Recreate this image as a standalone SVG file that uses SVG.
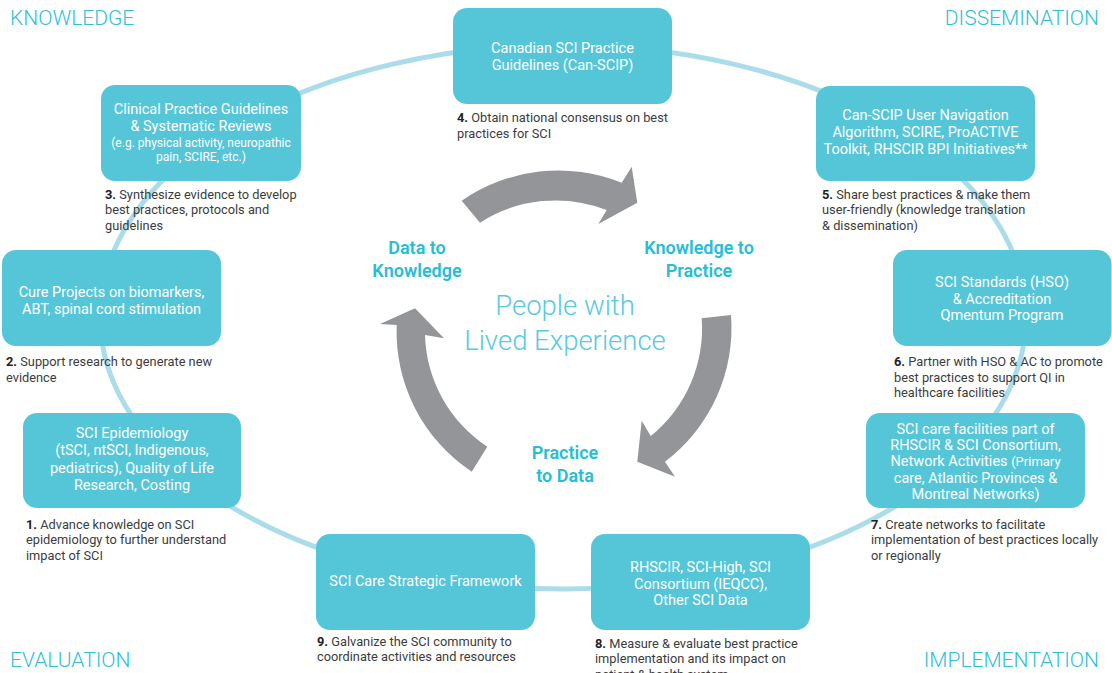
<svg xmlns="http://www.w3.org/2000/svg" width="1112" height="673" viewBox="0 0 1112 673">
<style>
text{font-family:Roboto,"Liberation Sans",Arial,sans-serif}
.box{fill:#55c6d8}
.bt{fill:#ffffff;font-size:14.5px;text-anchor:middle}
.bs{fill:#ffffff;font-size:12px;text-anchor:middle}
.cap{fill:#3c3c3c;font-size:12.8px}
.num{font-weight:700;fill:#222}
.corner{fill:#2fc0d7;font-size:21px;font-weight:300}
.phase{fill:#27bdd5;font-size:18px;font-weight:600;text-anchor:middle}
.ple{fill:#5ac9df;font-size:27.5px;font-weight:300;text-anchor:middle}
.ring{fill:none;stroke:#aadde9;stroke-width:5}
.arr{fill:#939598}
</style>
<rect width="1112" height="673" fill="#ffffff"/>
<g id="connectors">
<ellipse class="ring" cx="563" cy="317" rx="463" ry="272"/>
</g>
<g id="cycle-arrows">
<path class="arr" d="M461.7 200.7 A170 170 0 0 1 621.7 182.7 L631.7 166.7 L637.3 202.7 L598.3 224 L606.7 210 A140 140 0 0 0 480 222.7 Z"/>
<path class="arr" d="M701.7 318.3 L731 315 A168 168 0 0 1 665 461.7 L675 476.7 L637.3 461.7 L641.7 420.7 L650.7 436 A138 138 0 0 0 701.7 318.3 Z"/>
<path class="arr" d="M471.7 471.7 A168 168 0 0 1 396.7 325 L380 324 L415 308.3 L444 338.3 L425 335 A138 138 0 0 0 487.3 446.7 Z"/>
</g>
<g id="labels">
<text class="corner" x="10" y="25">KNOWLEDGE</text>
<text class="corner" x="1099" y="25" text-anchor="end">DISSEMINATION</text>
<text class="corner" x="10" y="667">EVALUATION</text>
<text class="corner" x="1099" y="667" text-anchor="end">IMPLEMENTATION</text>
<text class="phase" x="417" y="254">Data to</text>
<text class="phase" x="417" y="277">Knowledge</text>
<text class="phase" x="699" y="254">Knowledge to</text>
<text class="phase" x="699" y="277">Practice</text>
<text class="phase" x="565" y="459">Practice</text>
<text class="phase" x="565" y="482">to Data</text>
<text class="ple" x="565" y="315">People with</text>
<text class="ple" x="565" y="350">Lived Experience</text>
</g>
<g id="node-4">
<rect class="box" x="453" y="8" width="219" height="96" rx="14"/>
<text class="bt" x="562.5" y="53">Canadian SCI Practice</text>
<text class="bt" x="562.5" y="70">Guidelines (Can-SCIP)</text>
<text class="cap" x="457" y="122"><tspan class="num">4.</tspan> Obtain national consensus on best</text>
<text class="cap" x="457" y="137.5">practices for SCI</text>
</g>
<g id="node-3">
<rect class="box" x="101" y="85" width="200" height="96" rx="14"/>
<text class="bt" x="201" y="114">Clinical Practice Guidelines</text>
<text class="bt" x="201" y="131">&amp; Systematic Reviews</text>
<text class="bs" x="201" y="146.5">(e.g. physical activity, neuropathic</text>
<text class="bs" x="201" y="160.5">pain, SCIRE, etc.)</text>
<text class="cap" x="105" y="199"><tspan class="num">3.</tspan> Synthesize evidence to develop</text>
<text class="cap" x="105" y="214">best practices, protocols and</text>
<text class="cap" x="105" y="229.5">guidelines</text>
</g>
<g id="node-5">
<rect class="box" x="816" y="86" width="219" height="95" rx="14"/>
<text class="bt" x="925.5" y="119.5">Can-SCIP User Navigation</text>
<text class="bt" x="925.5" y="136.5">Algorithm, SCIRE, ProACTIVE</text>
<text class="bt" x="925.5" y="154">Toolkit, RHSCIR BPI Initiatives**</text>
<text class="cap" x="822" y="199"><tspan class="num">5.</tspan> Share best practices &amp; make them</text>
<text class="cap" x="822" y="214">user-friendly (knowledge translation</text>
<text class="cap" x="822" y="229.5">&amp; dissemination)</text>
</g>
<g id="node-6">
<rect class="box" x="893" y="250" width="218.5" height="96" rx="14"/>
<text class="bt" x="1002" y="287">SCI Standards (HSO)</text>
<text class="bt" x="1002" y="303.5">&amp; Accreditation</text>
<text class="bt" x="1002" y="320">Qmentum Program</text>
<text class="cap" x="894" y="366"><tspan class="num">6.</tspan> Partner with HSO &amp; AC to promote</text>
<text class="cap" x="894" y="381.5">best practices to support QI in</text>
<text class="cap" x="894" y="397">healthcare facilities</text>
</g>
<g id="node-7">
<rect class="box" x="866" y="413" width="219" height="95" rx="14"/>
<text class="bt" x="975.5" y="433.5">SCI care facilities part of</text>
<text class="bt" x="975.5" y="449.5">RHSCIR &amp; SCI Consortium,</text>
<text class="bt" x="975.5" y="466">Network Activities <tspan font-size="13px">(Primary</tspan></text>
<text class="bt" x="975.5" y="482.5" font-size="13px">care, Atlantic Provinces &amp;</text>
<text class="bt" x="975.5" y="499" font-size="13px">Montreal Networks)</text>
<text class="cap" x="871" y="528.5"><tspan class="num">7.</tspan> Create networks to facilitate</text>
<text class="cap" x="871" y="544">implementation of best practices locally</text>
<text class="cap" x="871" y="559.5">or regionally</text>
</g>
<g id="node-8">
<rect class="box" x="591" y="534" width="219" height="96" rx="14"/>
<text class="bt" x="700.5" y="571.5">RHSCIR, SCI-High, SCI</text>
<text class="bt" x="700.5" y="588.5">Consortium (IEQCC),</text>
<text class="bt" x="700.5" y="605">Other SCI Data</text>
<text class="cap" x="595" y="647.5"><tspan class="num">8.</tspan> Measure &amp; evaluate best practice</text>
<text class="cap" x="595" y="663">implementation and its impact on</text>
<text class="cap" x="595" y="678.5">patient &amp; health system</text>
</g>
<g id="node-9">
<rect class="box" x="316" y="534" width="219" height="96" rx="14"/>
<text class="bt" x="425.5" y="586">SCI Care Strategic Framework</text>
<text class="cap" x="317" y="645.5"><tspan class="num">9.</tspan> Galvanize the SCI community to</text>
<text class="cap" x="317" y="661">coordinate activities and resources</text>
</g>
<g id="node-1">
<rect class="box" x="23" y="413" width="218" height="95" rx="14"/>
<text class="bt" x="132" y="437.5">SCI Epidemiology</text>
<text class="bt" x="132" y="455">(tSCI, ntSCI, Indigenous,</text>
<text class="bt" x="132" y="472.5">pediatrics), Quality of Life</text>
<text class="bt" x="132" y="489.5">Research, Costing</text>
<text class="cap" x="26" y="528.5"><tspan class="num">1.</tspan> Advance knowledge on SCI</text>
<text class="cap" x="26" y="544">epidemiology to further understand</text>
<text class="cap" x="26" y="559.5">impact of SCI</text>
</g>
<g id="node-2">
<rect class="box" x="2" y="250" width="219" height="96" rx="14"/>
<text class="bt" x="111.5" y="297">Cure Projects on biomarkers,</text>
<text class="bt" x="111.5" y="314">ABT, spinal cord stimulation</text>
<text class="cap" x="6" y="366"><tspan class="num">2.</tspan> Support research to generate new</text>
<text class="cap" x="6" y="381.5">evidence</text>
</g>
</svg>
